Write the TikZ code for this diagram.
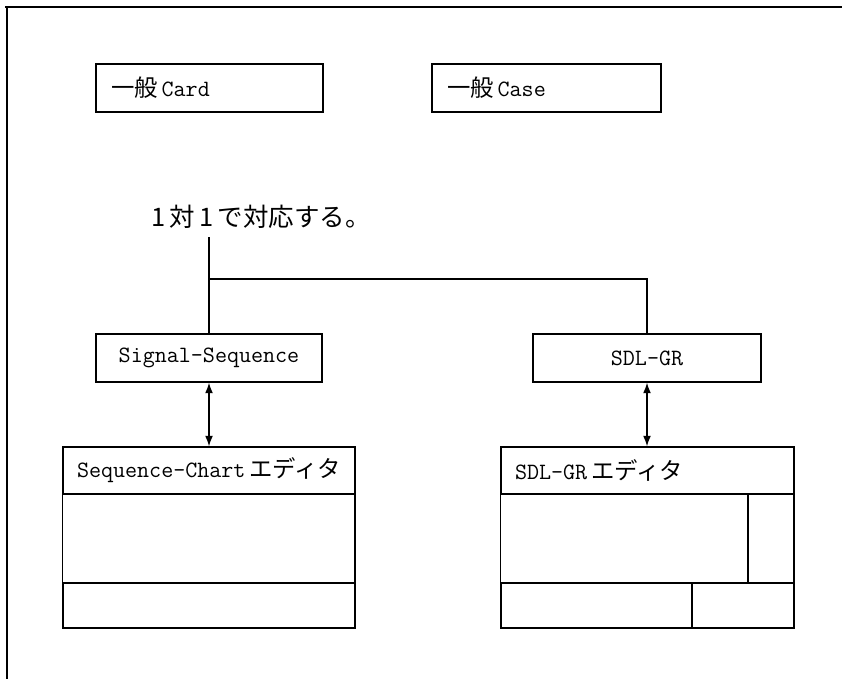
\documentclass[tikz,border=0pt]{standalone}
\usepackage{fontspec}
\newfontfamily\cjk{Noto Sans CJK JP}
\usetikzlibrary{arrows.meta,positioning}

\begin{document}
\begin{tikzpicture}[x=0.02cm, y=-0.02cm,
    box/.style={draw, line width=0.8pt, inner xsep=0.3cm, minimum height=0.96cm, align=left,
      font=\fontsize{13.3}{16}\selectfont\ttfamily},
    head/.style={box, minimum height=0.94cm, inner xsep=0.28cm},
    pane/.style={draw, line width=0.8pt},
    link/.style={line width=0.7pt},
    sync/.style={{Latex[length=6pt,width=4.5pt]}-{Latex[length=6pt,width=4.5pt]}, line width=0.7pt}
  ]
    \useasboundingbox (0,0) rectangle (842,679);
    % outer frame (only top and left edges visible)
    \draw[line width=1.2pt] (5,7) -- (842,7);
    \draw[line width=1.2pt] (7,7) -- (7,679);

    \node[box, text width=3.94cm] (card) at (209.5,88) {{\cjk 一般}\,Card};
    \node[box, text width=3.98cm] (case) at (546.5,88) {{\cjk 一般}\,Case};

    \node[font=\cjk\fontsize{14.5}{17}\selectfont] (note) at (261,217) {1\,対\,1\,で対応する。};

    \node[box, minimum width=4.52cm, align=center] (sigseq) at (209,358) {Signal-Sequence};
    \node[box, minimum width=4.56cm, align=center] (sdlgr) at (647,358) {SDL-GR};

    % editors
    \node[head, text width=5.28cm] (seqhead) at (209,470.5) {Sequence-Chart\,{\cjk エディタ}};
    \node[head, text width=5.3cm] (sdlhead) at (647.5,470.5) {SDL-GR\,{\cjk エディタ}};

    \draw[pane] (seqhead.south west) rectangle (355,583);
    \draw[pane] (63,583) rectangle (355,628);

    \draw[pane] (sdlhead.south west) rectangle (748,583);
    \draw[pane] (748,494) rectangle (794,583);
    \draw[pane] (501,583) rectangle (692,628);
    \draw[pane] (692,583) rectangle (794,628);

    % correspondence
    \coordinate (join) at (sigseq.north |- 0,279);
    \draw[link] (sigseq.north |- 0,237) -- (sigseq.north);
    \draw[link] (join) -| (sdlgr.north);

    \draw[sync] (sigseq) -- (sigseq |- seqhead.north);
    \draw[sync] (sdlgr) -- (sdlgr |- sdlhead.north);
  \end{tikzpicture}
\end{document}
